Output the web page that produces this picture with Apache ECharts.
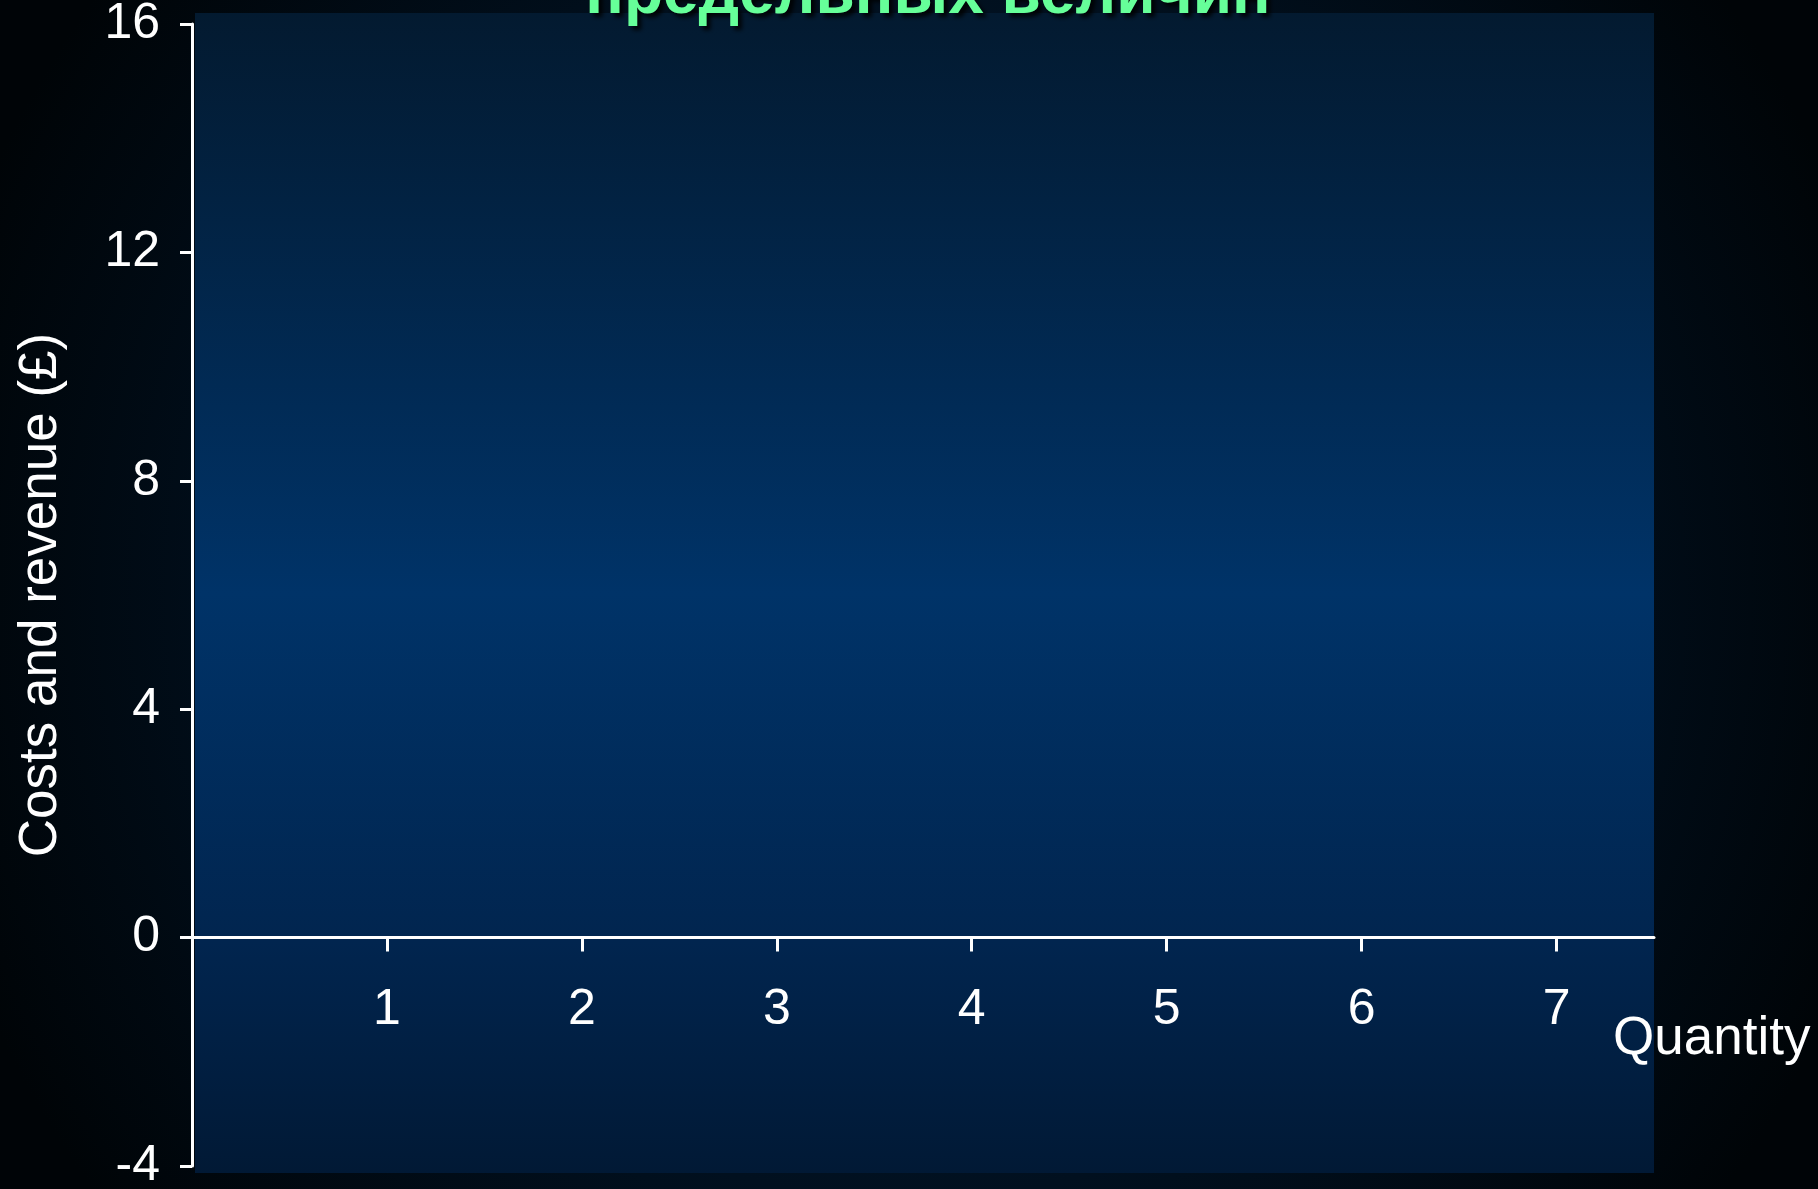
<!DOCTYPE html>
<html>
<head>
<meta charset="utf-8">
<script src="https://cdn.jsdelivr.net/npm/echarts@6/dist/echarts.min.js"></script>
<style>
html,body{margin:0;padding:0;background:#000306;}
#chart{width:1818px;height:1189px;}
</style>
</head>
<body>
<div id="chart"></div>
<script>
// ---- data ----
const titleText = 'предельных величин';
const xAxisName = 'Quantity';
const yAxisName = 'Costs and revenue (£)';
const xTicks = [1, 2, 3, 4, 5, 6, 7];
const xMin = 0, xMax = 7.5;
const yMin = -4, yMax = 16, yStep = 4;
const seriesData = []; // chart shows empty axes only

const chart = echarts.init(document.getElementById('chart'), null, {renderer: 'canvas'});
const labelFont = '"Liberation Sans Narrow", "Liberation Sans", Arial, sans-serif';
const nameFont = '"Liberation Sans", Arial, sans-serif';

const gridTop = 24, gridBottom = 23, chartH = 1189;
const gridH = chartH - gridTop - gridBottom;
// x axis sits on y = 0: shift it up from the grid bottom by the data span below zero
const xAxisOffset = -((0 - yMin) / (yMax - yMin)) * gridH;

chart.setOption({
  animation: false,
  backgroundColor: {
    type: 'radial', x: 0.5, y: 0.5, r: 0.85,
    colorStops: [
      {offset: 0, color: '#03203f'},
      {offset: 0.6, color: '#01101f'},
      {offset: 1, color: '#000407'}
    ]
  },
  graphic: [
    {
      type: 'rect', z: -10, silent: true,
      shape: {x: 195, y: 13, width: 1459, height: 1160},
      style: {
        fill: {
          type: 'linear', x: 0, y: 0, x2: 0, y2: 1,
          colorStops: [
            {offset: 0, color: '#031a30'},
            {offset: 0.5, color: '#003368'},
            {offset: 0.8, color: '#01254f'},
            {offset: 1, color: '#011935'}
          ]
        }
      }
    },
    {
      type: 'text', z: 10, silent: true,
      style: {
        text: titleText, x: 928, y: -5,
        align: 'center', verticalAlign: 'middle',
        font: 'bold 64px "Liberation Sans", Arial, sans-serif',
        fill: '#66ff99',
        textShadowColor: 'rgba(0,0,0,0.85)', textShadowBlur: 4,
        textShadowOffsetX: 4, textShadowOffsetY: 4
      }
    }
  ],
  grid: {left: 192, top: gridTop, right: 164, bottom: gridBottom, containLabel: false, outerBoundsMode: 'none'},
  xAxis: {
    type: 'value', min: xMin, max: xMax, position: 'bottom', offset: xAxisOffset,
    name: xAxisName, nameLocation: 'end', nameGap: -41,
    nameTextStyle: {
      color: '#ffffff', fontSize: 53, fontFamily: nameFont,
      align: 'left', verticalAlign: 'top', padding: [75, 0, 0, 0]
    },
    axisLine: {show: true, onZero: false, lineStyle: {color: '#ffffff', width: 3}},
    axisTick: {show: true, length: 14, customValues: xTicks, lineStyle: {color: '#ffffff', width: 3}},
    axisLabel: {
      show: true, customValues: xTicks, margin: 48,
      color: '#ffffff', fontSize: 50, fontFamily: labelFont
    },
    splitLine: {show: false}
  },
  yAxis: {
    type: 'value', min: yMin, max: yMax, interval: yStep,
    name: yAxisName, nameLocation: 'middle', nameGap: 124, nameRotate: 90,
    nameTextStyle: {color: '#ffffff', fontSize: 53, fontFamily: nameFont},
    axisLine: {show: true, onZero: false, lineStyle: {color: '#ffffff', width: 3}},
    axisTick: {show: true, length: 12, lineStyle: {color: '#ffffff', width: 3}},
    axisLabel: {margin: 32, color: '#ffffff', fontSize: 50, fontFamily: labelFont, padding: [6, 0, 0, 0]},
    splitLine: {show: false}
  },
  series: [{type: 'line', data: seriesData, silent: true}]
});
</script>
</body>
</html>
